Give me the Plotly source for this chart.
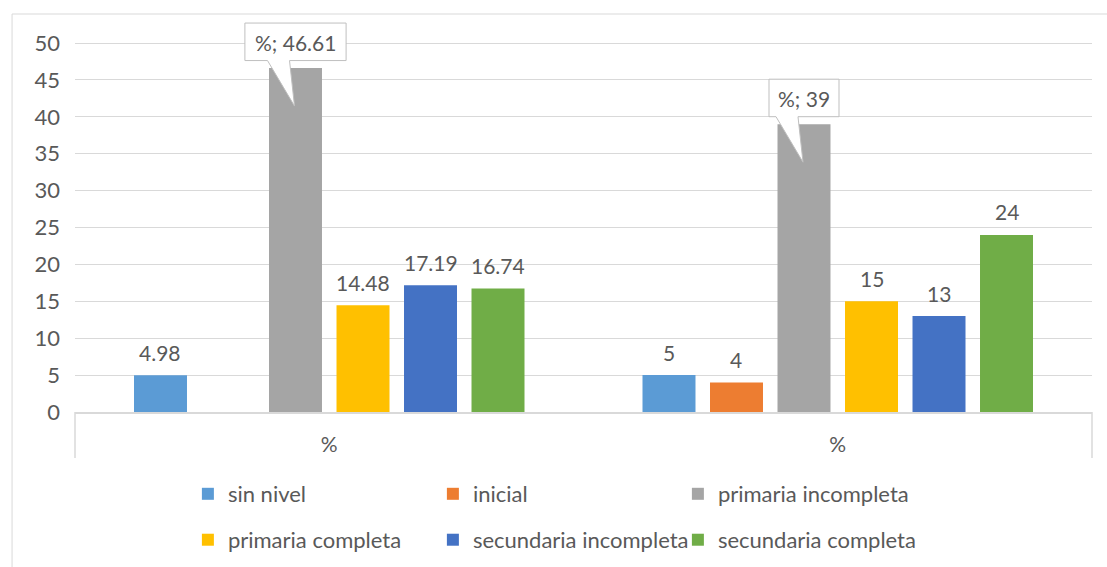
import plotly.graph_objects as go

categories = ["%", "%"]
series_names = ["sin nivel", "inicial", "primaria incompleta",
                "primaria completa", "secundaria incompleta", "secundaria completa"]
sin_nivel = [4.98, 5]
inicial = [None, 4]
primaria_incompleta = [46.61, 39]
primaria_completa = [14.48, 15]
secundaria_incompleta = [17.19, 13]
secundaria_completa = [16.74, 24]
colors = ["#5B9BD5", "#ED7D31", "#A5A5A5", "#FFC000", "#4472C4", "#70AD47"]
callout_series = "primaria incompleta"
y_ticks = list(range(0, 55, 5))

series = [sin_nivel, inicial, primaria_incompleta,
          primaria_completa, secundaria_incompleta, secundaria_completa]

FONT = "Lato"
TXT = "#595959"
GRID = "#D9D9D9"
BARGAP = 0.2035
GROUPGAP = 0.215

x_pos = list(range(len(categories)))
n = len(series)
slot = (1 - BARGAP) / n

fig = go.Figure()
annotations = []
shapes = []

for i, (name, vals, col) in enumerate(zip(series_names, series, colors)):
    fig.add_trace(go.Bar(
        x=x_pos, y=vals, name=name, marker=dict(color=col, line=dict(width=0)),
        legend="legend" if i < 3 else "legend2",
        hoverinfo="skip",
    ))
    off = (i - (n - 1) / 2) * slot
    for xp, v in zip(x_pos, vals):
        if v is None:
            continue
        lbl = f"{v:g}"
        if name == callout_series:
            text = f"{categories[xp]}; {lbl}"
            hw = 5.2 * len(text) + 9
            path = (f"M{-hw},7.5 L-28,7.5 L-1,-38 L-6,7.5 L{hw},7.5 "
                    f"L{hw},45 L{-hw},45 Z")
            shapes.append(dict(
                type="path", xref="x", yref="y", xsizemode="pixel", ysizemode="pixel",
                xanchor=xp + off, yanchor=v, path=path,
                fillcolor="white", line=dict(color="#BFBFBF", width=1), layer="above",
            ))
            annotations.append(dict(
                x=xp + off, y=v, text=text, showarrow=False, yanchor="middle",
                yshift=26, font=dict(family=FONT, size=21, color=TXT),
            ))
        else:
            annotations.append(dict(
                x=xp + off, y=v, text=lbl, showarrow=False, yanchor="middle",
                yshift=23, font=dict(family=FONT, size=21, color=TXT),
            ))

# chart border and category-axis end lines
shapes.append(dict(type="rect", xref="paper", yref="paper",
                   x0=-0.0619, x1=1.2, y0=-0.6, y1=0.9707,
                   line=dict(color=GRID, width=1), fillcolor="rgba(0,0,0,0)", layer="below"))
for xe in (0, 1):
    shapes.append(dict(type="line", xref="paper", yref="paper",
                       x0=xe, x1=xe, y0=0, y1=-0.112,
                       line=dict(color=GRID, width=1.5)))

fig.update_layout(
    width=1107, height=567,
    margin=dict(l=75, r=15, t=2, b=155),
    paper_bgcolor="white", plot_bgcolor="white",
    font=dict(family=FONT, size=21, color=TXT),
    barmode="group", bargap=BARGAP, bargroupgap=GROUPGAP,
    showlegend=True,
    legend=dict(orientation="h", x=0.111, xanchor="left", y=-0.2, yanchor="middle",
                entrywidth=200, entrywidthmode="pixels",
                font=dict(family=FONT, size=22, color=TXT), traceorder="normal"),
    legend2=dict(orientation="h", x=0.111, xanchor="left", y=-0.312, yanchor="middle",
                 entrywidth=200, entrywidthmode="pixels",
                 font=dict(family=FONT, size=22, color=TXT), traceorder="normal"),
    annotations=annotations,
    shapes=shapes,
    xaxis=dict(range=[-0.5, len(categories) - 0.5], tickvals=x_pos, ticktext=categories,
               showgrid=False, zeroline=False, showline=True, linecolor=GRID, linewidth=1.5,
               ticks="", ticklabelstandoff=13, fixedrange=True,
               tickfont=dict(family=FONT, size=21, color=TXT)),
    yaxis=dict(range=[0, 55.56], tickvals=y_ticks, showgrid=True, gridcolor=GRID, gridwidth=1,
               zeroline=False, showline=False, ticks="", ticklabelstandoff=14, fixedrange=True,
               tickfont=dict(family=FONT, size=22, color=TXT)),
)

fig.write_html("out.html", config={"displayModeBar": False},
               post_script="document.body.style.margin='0';")
